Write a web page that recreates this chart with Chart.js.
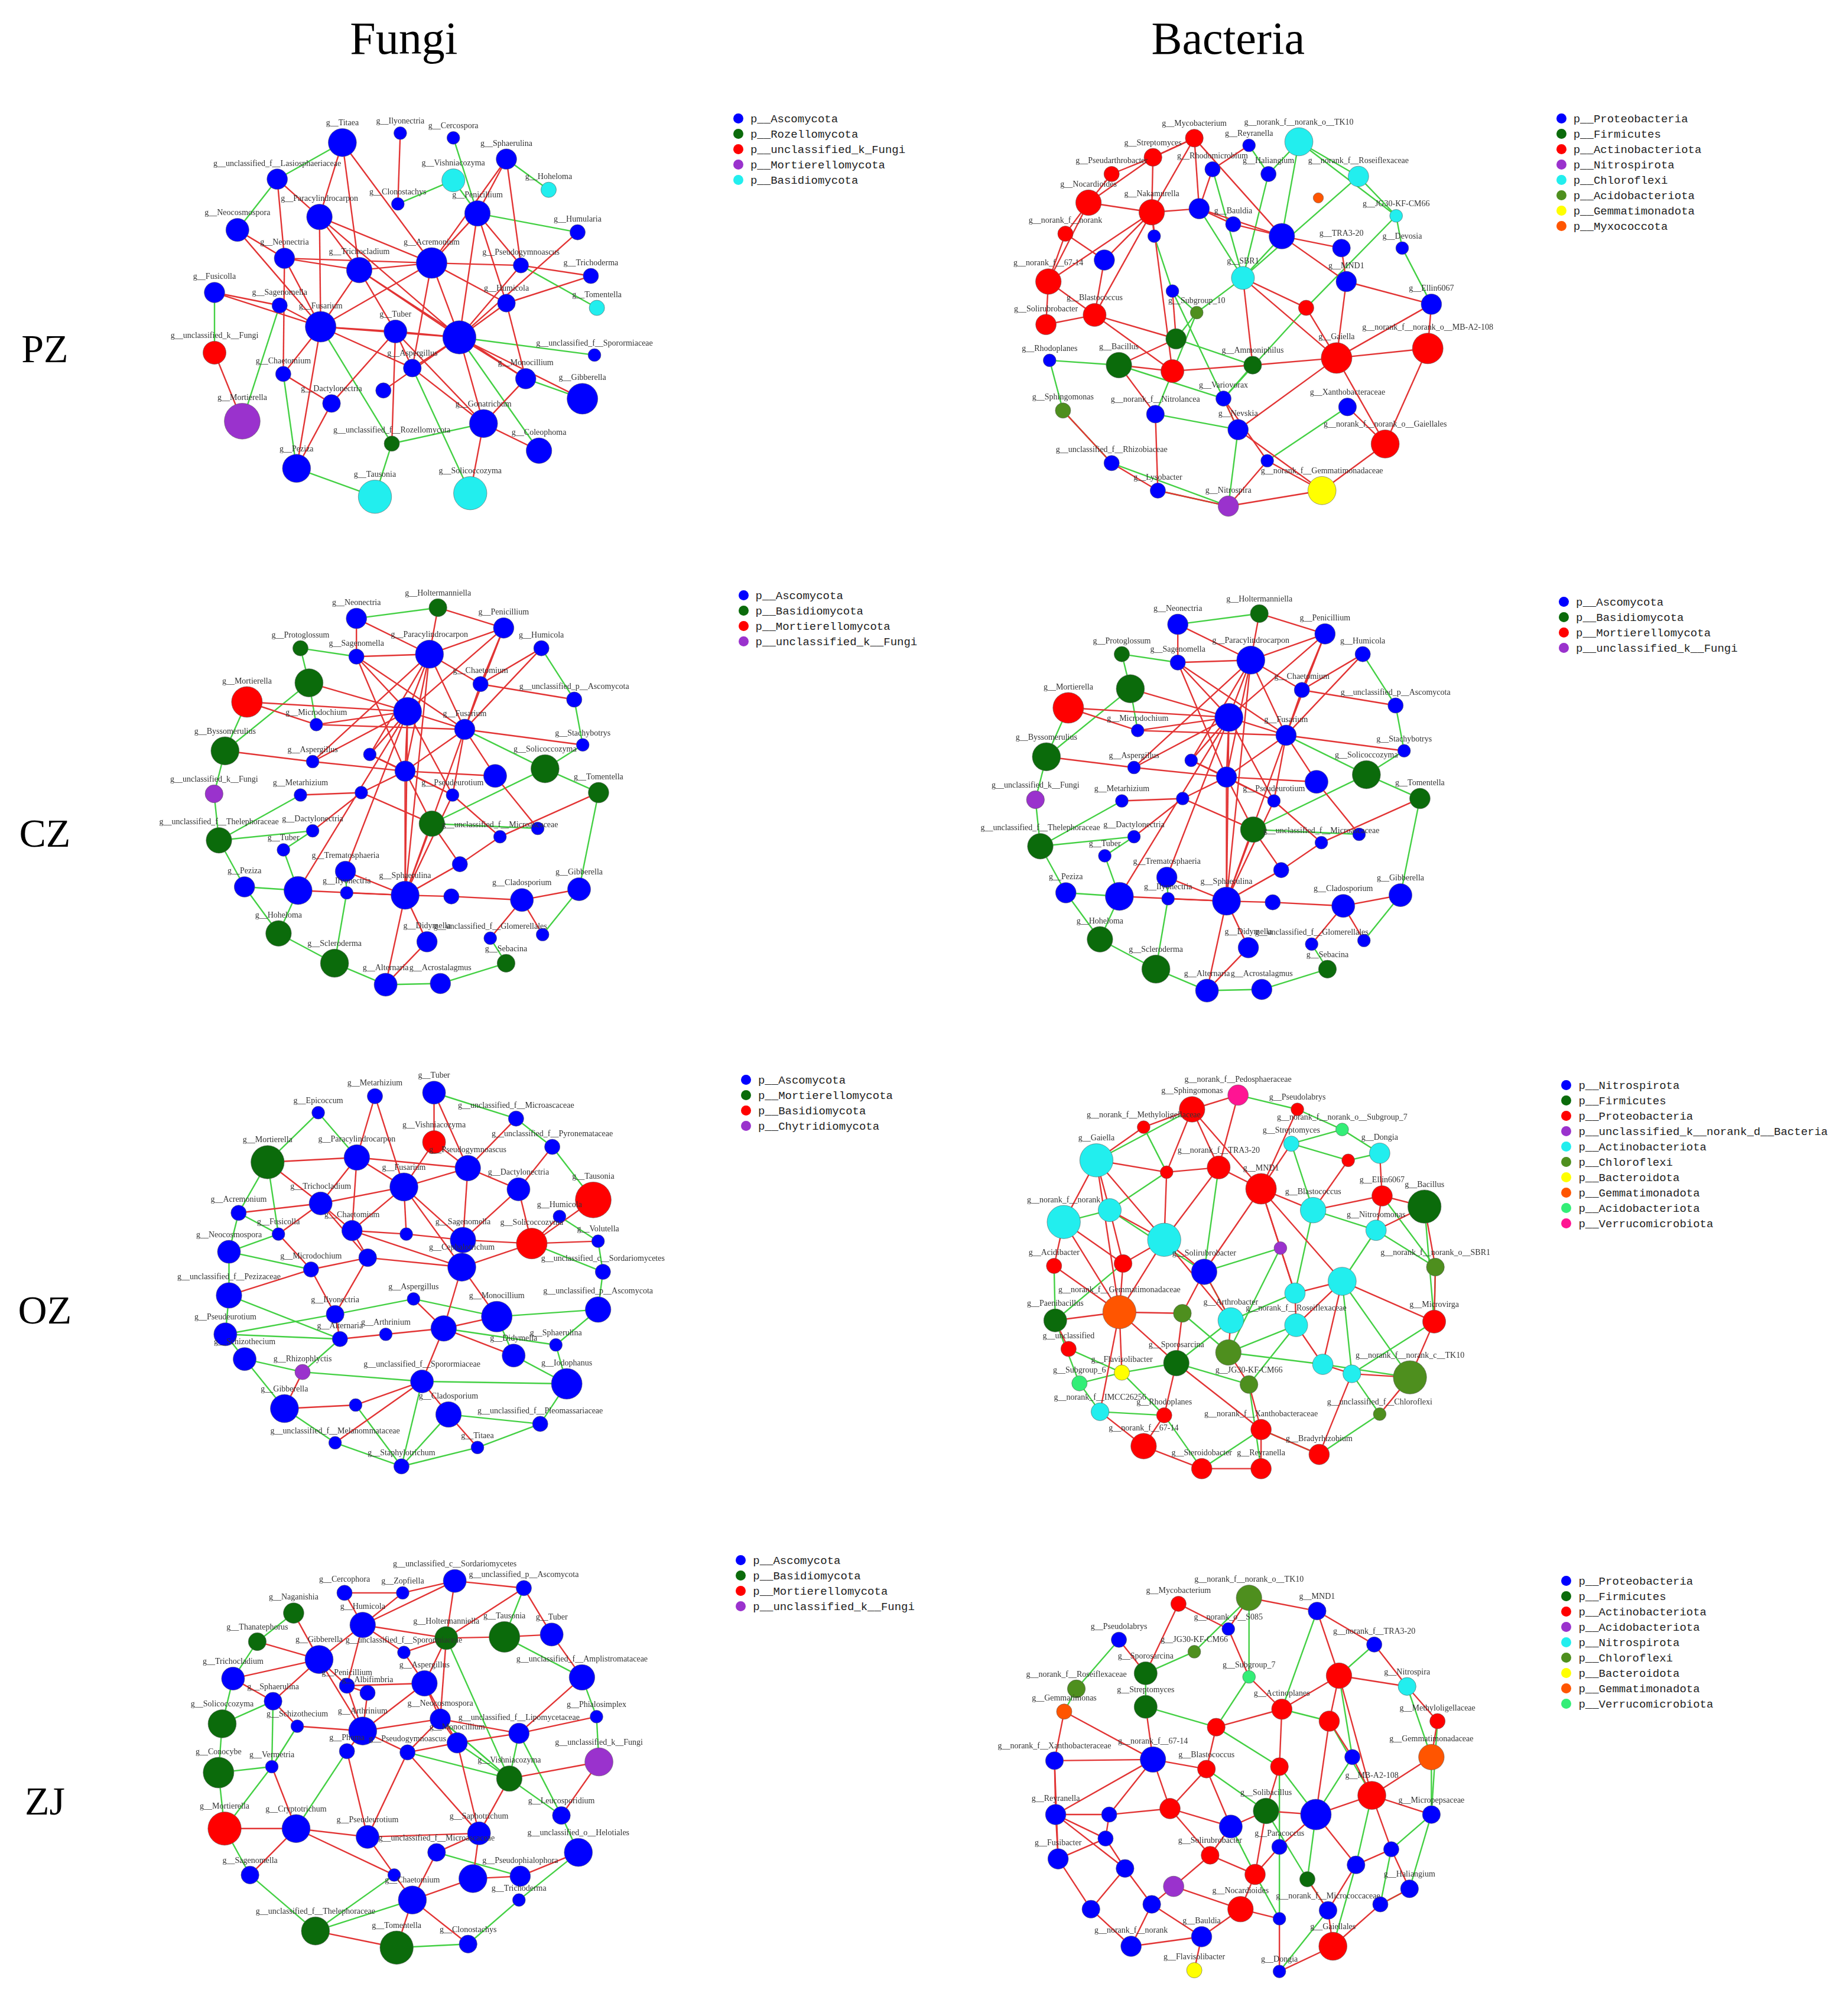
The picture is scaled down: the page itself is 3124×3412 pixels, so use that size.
<!DOCTYPE html>
<html lang="en">
<head>
<meta charset="utf-8" />
<title>Co-occurrence networks</title>
<script src="https://cdn.jsdelivr.net/npm/chart.js@4.4.0/dist/chart.umd.min.js"></script>
<style>
  body { margin: 0; background: #fff; width: 3124px; height: 3412px; position: relative; overflow: hidden; }
  .title { position: absolute; font-family: "Liberation Serif", serif; color: #000; transform: translate(-50%, -50%); white-space: nowrap; }
  .legend { position: absolute; font-family: "Liberation Mono", monospace; font-size: 19px; color: #222; line-height: 26px; }
  .legend span.dot { display: inline-block; width: 17px; height: 17px; border-radius: 50%; margin-right: 12px; vertical-align: -2px; }
  canvas { position: absolute; }
</style>
</head>
<body>
<script>
  const S = 3124 / 1440;

  const colTitles = [["Fungi", 315, 30], ["Bacteria", 958, 30]];
  const rowTitles = [["PZ", 35, 272], ["CZ", 35, 650], ["OZ", 35, 1022], ["ZJ", 35, 1405]];

  const COL = {
    blue: "#0000ff", dgreen: "#0b6b0b", red: "#ff0000", purple: "#9a32cd", cyan: "#22eeee",
    olive: "#4e8f1e", yellow: "#ffff00", orange: "#ff5500", spring: "#33ee77", pink: "#ff1493"
  };

  // ---------- PZ fungi ----------
  const pzFungiPhyla = [["p__Ascomycota", "blue"], ["p__Rozellomycota", "dgreen"], ["p__unclassified_k_Fungi", "red"], ["p__Mortierellomycota", "purple"], ["p__Basidiomycota", "cyan"]];
  const pzFungiNodes = [
    [264,100,11,0,"g__Titaea"],[312,92,5,0,"g__Ilyonectria"],[356,96,5,0,"g__Cercospora"],[400,114,8,0,"g__Sphaerulina"],
    [210,131,8,0,"g__unclassified_f__Lasiosphaeriaceae"],[310,152,5,0,"g__Clonostachys"],[356,132,9,4,"g__Vishniacozyma"],[435,140,6,4,"g__Hoheloma"],
    [245,163,10,0,"g__Paracylindrocarpon"],[376,160,10,0,"g__Penicillium"],[459,176,6,0,"g__Humularia"],[177,174,9,0,"g__Neocosmospora"],
    [216,198,8,0,"g__Neonectria"],[278,208,10,0,"g__Trichocladium"],[338,202,12,0,"g__Acremonium"],[412,204,6,0,"g__Pseudogymnoascus"],
    [470,213,6,0,"g__Trichoderma"],[158,227,8,0,"g__Fusicolla"],[212,238,6,0,"g__Sagenomella"],[475,240,6,4,"g__Tomentella"],
    [246,256,12,0,"g__Fusarium"],[308,260,9,0,"g__Tuber"],[361,265,13,0,""],[400,236,7,0,"g__Humicola"],
    [473,280,5,0,"g__unclassified_f__Sporormiaceae"],[158,278,9,2,"g__unclassified_k__Fungi"],[215,296,6,0,"g__Chaetomium"],[322,291,7,0,"g__Aspergillus"],
    [416,300,8,0,"g__Monocillium"],[463,317,12,0,"g__Gibberella"],[181,336,14,3,"g__Mortierella"],[255,321,7,0,"g__Dactylonectria"],
    [298,310,6,0,""],[381,338,11,0,"g__Gonatrichum"],[427,361,10,0,"g__Coleophoma"],[305,355,6,1,"g__unclassified_f__Rozellomycota"],
    [226,376,11,0,"g__Peziza"],[291,400,13,4,"g__Tausonia"],[370,397,13,4,"g__Solicoccozyma"]
  ];
  const pzFungiRed = [[0,8],[0,13],[0,14],[1,5],[3,9],[3,15],[4,12],[4,8],[8,13],[8,20],[8,14],[9,14],[9,22],[9,15],[11,12],[11,20],[12,13],[12,20],[12,14],[13,14],[13,21],[13,22],[14,22],[14,20],[14,15],[14,23],[15,16],[15,22],[17,18],[17,20],[18,20],[20,21],[20,22],[20,27],[20,26],[21,22],[21,27],[22,23],[22,28],[22,27],[22,33],[23,28],[26,31],[27,33],[28,33],[29,22],[31,21],[32,22],[33,34],[33,21],[36,31],[36,20],[38,33],[35,21],[13,28],[8,22],[3,14],[10,22],[16,23],[12,26],[30,25],[14,27],[13,20],[9,23]];
  const pzFungiGreen = [[0,4],[4,11],[6,9],[6,5],[7,3],[19,15],[25,17],[37,36],[37,35],[38,27],[24,22],[35,20],[30,18],[2,9],[10,9],[36,26],[34,22],[29,28],[35,33]];

  // ---------- PZ bacteria ----------
  const pzBactPhyla = [["p__Proteobacteria", "blue"], ["p__Firmicutes", "dgreen"], ["p__Actinobacteriota", "red"], ["p__Nitrospirota", "purple"], ["p__Chloroflexi", "cyan"], ["p__Acidobacteriota", "olive"], ["p__Gemmatimonadota", "yellow"], ["p__Myxococcota", "orange"]];
  const pzBactNodes = [
    [930,98,7,2,"g__Mycobacterium"],[975,104,5,0,"g__Reyranella"],[1016,101,11,4,"g__norank_f__norank_o__TK10"],[896,114,7,2,"g__Streptomyces"],
    [1065,130,8,4,"g__norank_f__Roseiflexaceae"],[862,128,6,2,"g__Pseudarthrobacter"],[945,124,6,0,"g__Rhodomicrobium"],[843,152,10,2,"g__Nocardioides"],
    [895,160,10,2,"g__Nakamurella"],[934,157,8,0,""],[991,128,6,0,"g__Haliangium"],[1032,148,4,7,""],
    [1096,163,5,4,"g__JG30-KF-CM66"],[824,178,6,2,"g__norank_f__norank"],[897,180,5,0,""],[962,170,6,0,"g__Bauldia"],
    [1002,180,10,0,""],[1051,190,7,0,"g__TRA3-20"],[1101,190,5,0,"g__Devosia"],[810,218,10,2,"g__norank_f__67-14"],
    [856,200,8,0,""],[912,226,5,0,""],[970,215,9,4,"g__SBR1"],[1055,218,8,0,"g__MND1"],
    [1125,237,8,0,"g__Ellin6067"],[808,254,8,2,"g__Solirubrobacter"],[848,246,9,2,"g__Blastococcus"],[932,244,5,5,"g__Subgroup_10"],
    [1022,240,6,2,""],[915,266,8,1,""],[1122,274,12,2,"g__norank_f__norank_o__MB-A2-108"],[1047,282,12,2,"g__Gaiella"],
    [811,284,5,0,"g__Rhodoplanes"],[868,288,10,1,"g__Bacillus"],[912,293,9,2,""],[978,288,7,1,"g__Ammoniphilus"],
    [954,316,6,0,"g__Variovorax"],[1056,323,7,0,"g__Xanthobacteraceae"],[822,326,6,5,"g__Sphingomonas"],[898,329,7,0,"g__norank_f__Nitrolancea"],
    [966,342,8,0,"g__Nevskia"],[1087,354,11,2,"g__norank_f__norank_o__Gaiellales"],[862,370,6,0,"g__unclassified_f__Rhizobiaceae"],[990,368,5,0,""],
    [900,393,6,0,"g__Lysobacter"],[958,406,8,3,"g__Nitrospira"],[1035,393,11,6,"g__norank_f__Gemmatimonadaceae"]
  ];
  const pzBactRed = [[0,3],[0,8],[0,16],[3,5],[3,7],[3,8],[5,7],[7,8],[7,13],[7,19],[8,9],[8,14],[8,20],[9,16],[13,19],[13,20],[19,25],[19,26],[20,26],[25,26],[26,29],[29,33],[33,34],[34,35],[31,30],[31,23],[31,24],[30,24],[30,41],[41,37],[41,46],[46,43],[46,40],[40,36],[31,22],[22,28],[16,17],[17,23],[23,24],[1,6],[6,9],[9,15],[15,16],[33,39],[39,44],[42,44],[42,38],[36,43],[28,31],[22,35],[34,8],[19,8],[35,31],[26,34],[29,21],[43,45],[40,31],[41,31],[16,23],[8,26],[0,9],[45,46],[44,45],[3,0]];
  const pzBactGreen = [[2,4],[2,12],[4,12],[10,22],[22,16],[22,27],[27,29],[29,35],[35,36],[36,40],[40,45],[44,45],[42,45],[32,33],[32,38],[38,42],[2,10],[12,18],[18,24],[22,9],[6,22],[14,21],[21,27],[33,36],[39,40],[43,37],[28,36],[1,10],[2,16],[4,22],[12,28],[21,36],[27,39]];

  // ---------- CZ (same network in both columns) ----------
  const czPhyla = [["p__Ascomycota", "blue"], ["p__Basidiomycota", "dgreen"], ["p__Mortierellomycota", "red"], ["p__unclassified_k__Fungi", "purple"]];
  const czNodes = [
    [343,463,7,1,"g__Holtermanniella"],[276,472,8,0,"g__Neonectria"],[397,480,8,0,"g__Penicillium"],[230,497,6,1,"g__Protoglossum"],
    [276,504,6,0,"g__Sagenomella"],[336,502,11,0,"g__Paracylindrocarpon"],[428,497,6,0,"g__Humicola"],[237,526,11,1,""],
    [378,527,6,0,"g__Chaetomium"],[186,542,12,2,"g__Mortierella"],[455,540,6,0,"g__unclassified_p__Ascomycota"],[243,561,5,0,"g__Microdochium"],
    [318,550,11,0,""],[365,565,8,0,"g__Fusarium"],[168,583,11,1,"g__Byssomerulius"],[462,578,5,0,"g__Stachybotrys"],
    [240,592,5,0,"g__Aspergillus"],[287,586,5,0,""],[390,604,9,0,""],[431,598,11,1,"g__Solicoccozyma"],
    [316,600,8,0,""],[159,619,7,3,"g__unclassified_k__Fungi"],[475,618,8,1,"g__Tomentella"],[230,620,5,0,"g__Metarhizium"],
    [280,618,5,0,""],[355,620,5,0,"g__Pseudeurotium"],[338,644,10,1,""],[394,655,5,0,"g__unclassified_f__Microascaceae"],
    [425,648,5,0,""],[163,658,10,1,"g__unclassified_f__Thelephoraceae"],[240,650,5,0,"g__Dactylonectria"],[216,666,5,0,"g__Tuber"],
    [267,684,8,0,"g__Trematosphaeria"],[361,678,6,0,""],[184,697,8,0,"g__Peziza"],[228,700,11,0,""],
    [268,702,5,0,"g__Ilyonectria"],[316,704,11,0,"g__Sphaerulina"],[354,705,6,0,""],[412,708,9,0,"g__Cladosporium"],
    [459,699,9,0,"g__Gibberella"],[212,736,10,1,"g__Hoheloma"],[334,743,8,0,"g__Didymella"],[386,740,5,0,"g__unclassified_f__Glomerellales"],
    [429,737,5,0,""],[258,761,11,1,"g__Scleroderma"],[300,779,9,0,"g__Alternaria"],[345,778,8,0,"g__Acrostalagmus"],
    [399,761,7,1,"g__Sebacina"]
  ];
  const czRed = [[0,5],[0,2],[1,5],[1,4],[2,5],[2,12],[2,8],[4,5],[4,12],[4,13],[5,12],[5,13],[5,8],[5,20],[5,17],[6,8],[6,13],[7,12],[8,13],[11,12],[11,13],[12,13],[12,20],[12,17],[12,25],[13,20],[13,25],[13,18],[16,12],[16,20],[17,20],[20,24],[20,25],[20,26],[23,24],[24,26],[25,27],[26,33],[26,37],[32,37],[33,37],[36,37],[37,38],[37,46],[38,39],[39,40],[42,37],[42,46],[43,39],[44,39],[10,8],[15,13],[22,27],[28,18],[9,11],[14,16],[30,24],[32,12],[35,37],[35,12],[27,33],[20,37],[25,37],[12,37],[13,37],[18,20],[17,25],[2,13],[5,16],[9,12],[5,37],[4,20]];
  const czGreen = [[3,7],[7,14],[14,21],[21,29],[29,34],[34,41],[41,45],[45,46],[46,47],[47,48],[48,43],[22,19],[19,15],[15,10],[10,6],[3,4],[7,11],[9,14],[29,30],[30,31],[31,35],[35,41],[32,36],[40,22],[28,26],[26,19],[19,13],[0,1],[36,45],[23,29],[40,44],[34,35]];

  // ---------- OZ fungi ----------
  const ozFungiPhyla = [["p__Ascomycota", "blue"], ["p__Mortierellomycota", "dgreen"], ["p__Basidiomycota", "red"], ["p__Chytridiomycota", "purple"]];
  const ozFungiNodes = [
    [291,843,6,0,"g__Metarhizium"],[340,840,9,0,"g__Tuber"],[244,857,5,0,"g__Epicoccum"],[408,862,6,0,"g__unclassified_f__Microascaceae"],
    [340,882,9,2,"g__Vishniacozyma"],[202,899,13,1,"g__Mortierella"],[276,895,10,0,"g__Paracylindrocarpon"],[368,904,10,0,"g__Pseudogymnoascus"],
    [438,886,6,0,"g__unclassified_f__Pyronemataceae"],[178,942,6,0,"g__Acremonium"],[246,934,9,0,"g__Trichocladium"],[315,920,11,0,"g__Fusarium"],
    [410,922,9,0,"g__Dactylonectria"],[472,931,14,2,"g__Tausonia"],[444,945,5,0,"g__Humicola"],[170,975,9,0,"g__Neocosmospora"],
    [211,960,5,0,"g__Fusicolla"],[272,957,8,0,"g__Chaetomium"],[317,960,5,0,""],[364,965,10,0,"g__Sagenomella"],
    [421,968,12,2,"g__Solicoccozyma"],[476,966,5,0,"g__Volutella"],[480,992,6,0,"g__unclassified_c__Sordariomycetes"],[170,1012,10,0,"g__unclassified_f__Pezizaceae"],
    [238,990,6,0,"g__Microdochium"],[285,980,7,0,""],[363,988,11,0,"g__Cephalotrichum"],[167,1045,9,0,"g__Pseudeurotium"],
    [258,1028,7,0,"g__Ilyonectria"],[323,1015,5,0,"g__Aspergillus"],[392,1030,12,0,"g__Monocillium"],[476,1024,10,0,"g__unclassified_p__Ascomycota"],
    [183,1066,9,0,"g__Schizothecium"],[262,1049,6,0,"g__Alternaria"],[300,1045,5,0,"g__Arthrinium"],[348,1040,10,0,""],
    [441,1054,5,0,"g__Sphaerulina"],[231,1077,6,3,"g__Rhizophlyctis"],[406,1063,9,0,"g__Didymella"],[330,1085,9,0,"g__unclassified_f__Sporormiaceae"],
    [216,1108,11,0,"g__Gibberella"],[450,1087,12,0,"g__Iodophanus"],[352,1113,10,0,"g__Cladosporium"],[428,1121,6,0,"g__unclassified_f__Pleomassariaceae"],
    [258,1137,5,0,"g__unclassified_f__Melanommataceae"],[313,1157,6,0,"g__Staphylotrichum"],[376,1141,5,0,"g__Titaea"],[275,1105,5,0,""]
  ];
  const ozFungiRed = [[0,6],[0,11],[1,4],[1,7],[4,7],[4,11],[6,10],[6,11],[6,17],[7,11],[7,12],[7,19],[10,11],[10,16],[10,17],[11,17],[11,18],[11,19],[12,19],[12,20],[13,20],[17,18],[17,25],[18,19],[19,26],[19,20],[25,26],[26,30],[26,35],[25,28],[28,33],[29,35],[30,35],[35,39],[33,34],[34,35],[39,42],[24,25],[16,24],[9,10],[5,10],[5,6],[3,7],[8,12],[14,20],[21,20],[26,20],[11,26],[17,26],[24,28],[39,47],[40,47],[42,46],[44,39],[23,24],[40,37],[35,38],[6,7],[10,25]];
  const ozFungiGreen = [[2,5],[5,9],[9,15],[15,23],[23,27],[27,32],[32,40],[40,44],[44,45],[45,46],[46,43],[43,41],[41,36],[36,31],[31,22],[22,21],[21,14],[13,8],[8,3],[3,1],[15,24],[23,33],[27,33],[32,37],[33,37],[37,39],[39,45],[42,43],[30,38],[38,41],[35,36],[28,29],[16,9],[5,16],[2,6],[22,20],[31,30],[42,45],[29,30],[47,45],[15,16],[27,28],[39,41]];

  // ---------- OZ bacteria ----------
  const ozBactPhyla = [["p__Nitrospirota", "blue"], ["p__Firmicutes", "dgreen"], ["p__Proteobacteria", "red"], ["p__unclassified_k__norank_d__Bacteria", "purple"], ["p__Actinobacteriota", "cyan"], ["p__Chloroflexi", "olive"], ["p__Bacteroidota", "yellow"], ["p__Gemmatimonadota", "orange"], ["p__Acidobacteriota", "spring"], ["p__Verrucomicrobiota", "pink"]];
  const ozBactNodes = [
    [966,843,8,9,"g__norank_f__Pedosphaeraceae"],[928,855,10,2,"g__Sphingomonas"],[1015,855,5,2,"g__Pseudolabrys"],[888,870,5,2,"g__norank_f__Methyloligellaceae"],
    [849,898,13,4,"g__Gaiella"],[1052,872,5,8,"g__norank_f__norank_o__Subgroup_7"],[1010,884,6,4,"g__Streptomyces"],[950,904,9,2,"g__norank_f__TRA3-20"],
    [1083,892,8,4,"g__Dongia"],[907,908,5,2,""],[1057,898,5,2,""],[985,922,12,2,"g__MND1"],
    [1085,928,8,2,"g__Ellin6067"],[1120,937,13,1,"g__Bacillus"],[822,950,13,4,"g__norank_f__norank"],[860,940,9,4,""],
    [1028,940,10,4,"g__Blastococcus"],[1080,957,8,4,"g__Nitrosomonas"],[905,965,13,4,""],[814,987,6,2,"g__Acidibacter"],
    [871,985,7,2,""],[938,992,10,0,"g__Solirubrobacter"],[1001,972,5,3,""],[1129,988,7,5,"g__norank_f__norank_o__SBR1"],
    [1052,1000,11,4,""],[815,1033,9,1,"g__Paenibacillus"],[868,1026,13,7,"g__norank_f__Gemmatimonadaceae"],[920,1027,7,5,""],
    [960,1033,10,4,"g__Arthrobacter"],[1013,1010,8,4,""],[1014,1037,9,4,"g__norank_f__Roseiflexaceae"],[1128,1034,9,2,"g__Microvirga"],
    [826,1057,6,2,"g__unclassified"],[915,1069,10,1,"g__Sporosarcina"],[958,1060,10,5,""],[1036,1070,8,4,""],
    [835,1086,6,8,"g__Subgroup_6"],[870,1077,6,6,"g__Flavisolibacter"],[975,1087,7,5,"g__JG30-KF-CM66"],[1060,1078,7,4,""],
    [1108,1081,13,5,"g__norank_f__norank_c__TK10"],[852,1110,7,4,"g__norank_f__IMCC26256"],[905,1113,6,2,"g__Rhodoplanes"],[1083,1112,5,5,"g__unclassified_f__Chloroflexi"],
    [1033,1146,8,2,"g__Bradyrhizobium"],[888,1139,10,2,"g__norank_f__67-14"],[936,1158,8,2,"g__Steroidobacter"],[985,1158,8,2,"g__Reyranella"],
    [985,1125,8,2,"g__norank_f__Xanthobacteraceae"]
  ];
  const ozBactRed = [[1,3],[1,7],[1,9],[1,11],[3,4],[4,9],[4,14],[4,15],[4,18],[7,11],[7,9],[7,18],[9,18],[11,16],[11,22],[11,24],[11,29],[12,16],[12,17],[12,13],[13,23],[13,17],[14,19],[14,20],[14,26],[15,18],[15,20],[18,20],[18,21],[18,26],[19,26],[20,26],[21,27],[21,28],[22,29],[24,29],[24,30],[24,31],[24,35],[25,26],[25,32],[26,27],[26,33],[26,37],[27,33],[28,34],[29,30],[30,35],[31,40],[33,42],[34,38],[35,39],[39,40],[40,43],[41,45],[42,45],[44,48],[45,46],[46,47],[47,48],[48,38],[44,39],[0,1],[0,7],[2,11],[6,11],[8,12],[10,16],[23,31],[26,41],[33,48],[21,11],[18,28],[4,26]];
  const ozBactGreen = [[0,2],[2,5],[5,8],[8,10],[6,10],[6,16],[3,9],[9,15],[14,15],[19,25],[25,36],[36,41],[32,37],[37,42],[41,42],[42,46],[46,48],[48,44],[44,43],[43,39],[39,31],[31,23],[23,17],[17,16],[16,29],[29,28],[28,21],[21,22],[22,34],[34,30],[30,38],[38,33],[33,37],[27,34],[24,39],[35,40],[12,23],[13,31],[7,21],[1,4],[5,6],[17,24],[28,33],[20,25],[15,21],[34,35],[38,47],[40,24],[36,37]];

  // ---------- ZJ fungi ----------
  const zjFungiPhyla = [["p__Ascomycota", "blue"], ["p__Basidiomycota", "dgreen"], ["p__Mortierellomycota", "red"], ["p__unclassified_k__Fungi", "purple"]];
  const zjFungiNodes = [
    [357,1222,9,0,"g__unclassified_c__Sordariomycetes"],[266,1232,6,0,"g__Cercophora"],[314,1232,5,0,"g__Zopfiella"],[414,1228,6,0,"g__unclassified_p__Ascomycota"],
    [224,1249,8,1,"g__Naganishia"],[281,1259,10,0,"g__Humicola"],[350,1270,9,1,"g__Holtermanniella"],[398,1269,12,1,"g__Tausonia"],
    [437,1267,9,0,"g__Tuber"],[194,1273,7,1,"g__Thanatephorus"],[245,1288,11,0,"g__Gibberella"],[315,1282,5,0,"g__unclassified_f__Sporormiaceae"],
    [462,1303,10,0,"g__unclassified_f__Amplistromataceae"],[174,1304,9,0,"g__Trichocladium"],[268,1310,6,0,"g__Penicillium"],[332,1308,10,0,"g__Aspergillus"],
    [207,1323,7,0,"g__Sphaerulina"],[285,1316,6,0,"g__Albifimbria"],[165,1342,11,1,"g__Solicoccozyma"],[227,1344,5,0,"g__Schizothecium"],
    [281,1348,11,0,"g__Arthrinium"],[410,1350,8,0,"g__unclassified_f__Lipomycetaceae"],[474,1336,5,0,"g__Phialosimplex"],[476,1374,11,3,"g__unclassified_k__Fungi"],
    [345,1338,8,0,"g__Neocosmospora"],[162,1383,12,1,"g__Conocybe"],[206,1378,5,0,"g__Vermetria"],[268,1365,6,0,"g__Phoma"],
    [318,1366,6,0,"g__Pseudogymnoascus"],[402,1388,10,1,"g__Vishniacozyma"],[359,1358,8,0,"g__Monocillium"],[167,1430,13,2,"g__Mortierella"],
    [226,1430,11,0,"g__Cryptotrichum"],[285,1437,9,0,"g__Pseudeurotium"],[445,1419,7,0,"g__Leucosporidium"],[377,1434,9,0,"g__Saphotrichum"],
    [459,1450,11,0,"g__unclassified_o__Helotiales"],[188,1469,7,0,"g__Sagenomella"],[342,1450,7,0,"g__unclassified_f__Microascaceae"],[307,1469,5,0,""],
    [411,1470,8,0,"g__Pseudophialophora"],[322,1490,11,0,"g__Chaetomium"],[410,1490,5,0,"g__Trichoderma"],[242,1516,11,1,"g__unclassified_f__Thelephoraceae"],
    [309,1530,13,1,"g__Tomentella"],[368,1527,7,0,"g__Clonostachys"],[372,1472,11,0,""]
  ];
  const zjFungiRed = [[0,2],[0,3],[0,6],[0,5],[1,5],[1,2],[2,5],[3,6],[3,8],[5,6],[5,10],[5,11],[5,14],[6,7],[6,11],[6,15],[7,8],[8,12],[10,14],[10,13],[10,16],[11,15],[14,15],[14,17],[14,20],[15,24],[15,20],[16,19],[17,20],[19,20],[20,24],[20,27],[20,28],[24,28],[24,30],[28,30],[28,35],[30,35],[21,30],[21,24],[12,21],[22,21],[23,34],[23,29],[29,35],[33,35],[32,33],[35,46],[35,38],[38,41],[46,40],[40,36],[41,45],[41,44],[43,44],[37,32],[31,32],[32,39],[26,32],[13,16],[4,10],[9,10],[33,41],[27,33],[28,33],[46,41],[10,20],[15,30],[6,24]];
  const zjFungiGreen = [[4,9],[9,13],[13,18],[18,25],[25,31],[31,37],[37,43],[43,41],[44,45],[45,42],[42,36],[36,34],[34,29],[29,21],[12,22],[22,23],[3,7],[7,12],[18,16],[25,26],[26,31],[19,26],[27,32],[29,30],[29,24],[38,40],[39,43],[6,29],[21,34],[28,29],[24,29],[16,26]];

  // ---------- ZJ bacteria ----------
  const zjBactPhyla = [["p__Proteobacteria", "blue"], ["p__Firmicutes", "dgreen"], ["p__Actinobacteriota", "red"], ["p__Acidobacteriota", "purple"], ["p__Nitrospirota", "cyan"], ["p__Chloroflexi", "olive"], ["p__Bacteroidota", "yellow"], ["p__Gemmatimonadota", "orange"], ["p__Verrucomicrobiota", "spring"]];
  const zjBactNodes = [
    [975,1237,10,5,"g__norank_f__norank_o__TK10"],[917,1242,6,2,"g__Mycobacterium"],[1031,1248,7,0,"g__MND1"],[868,1272,6,0,"g__Pseudolabrys"],
    [958,1263,5,0,"g__norank_o__S085"],[1078,1276,6,0,"g__norank_f__TRA3-20"],[930,1282,5,5,"g__JG30-KF-CM66"],[833,1313,7,5,"g__norank_f__Roseiflexaceae"],
    [890,1300,9,1,"g__Sporosarcina"],[975,1303,5,8,"g__Subgroup_7"],[1049,1302,10,2,""],[1105,1311,7,4,"g__Nitrospira"],
    [823,1332,6,7,"g__Gemmatimonas"],[890,1328,9,1,"g__Streptomyces"],[1002,1330,8,2,"g__Actinoplanes"],[1130,1340,6,2,"g__Methyloligellaceae"],
    [948,1345,7,2,""],[1041,1340,8,2,""],[1125,1370,10,7,"g__Gemmatimonadaceae"],[896,1372,10,0,"g__norank_f__67-14"],
    [940,1380,7,2,"g__Blastococcus"],[1000,1378,7,2,""],[815,1373,7,0,"g__norank_f__Xanthobacteraceae"],[1060,1370,6,0,""],
    [1076,1402,11,2,"g__MB-A2-108"],[1125,1418,7,0,"g__Micropepsaceae"],[816,1418,8,0,"g__Reyranella"],[860,1418,6,0,""],
    [910,1413,8,2,""],[989,1415,10,1,"g__Solibacillus"],[1030,1418,12,0,""],[960,1428,9,0,""],
    [857,1438,6,0,""],[943,1452,7,2,"g__Solirubrobacter"],[818,1455,8,0,"g__Fusibacter"],[873,1463,7,0,""],
    [1000,1445,6,0,"g__Paracoccus"],[1092,1447,6,0,""],[980,1468,8,2,""],[1023,1472,6,1,""],
    [1063,1460,7,0,""],[1107,1480,7,0,"g__Haliangium"],[913,1478,8,3,""],[845,1497,7,0,""],
    [895,1493,7,0,""],[968,1497,10,2,"g__Nocardioides"],[1040,1498,7,0,"g__norank_f__Micrococcaceae"],[1083,1493,6,0,""],
    [878,1528,8,0,"g__norank_f__norank"],[936,1520,8,0,"g__Bauldia"],[1044,1528,11,2,"g__Gaiellales"],[930,1548,6,6,"g__Flavisolibacter"],
    [1000,1549,5,0,"g__Dongia"],[1000,1505,5,0,""]
  ];
  const zjBactRed = [[0,2],[0,4],[1,4],[2,5],[2,10],[4,9],[5,11],[10,11],[10,14],[10,17],[10,24],[11,15],[13,19],[12,19],[12,22],[19,20],[19,22],[19,26],[19,27],[19,28],[20,28],[20,31],[21,29],[14,21],[17,23],[23,24],[24,25],[24,30],[24,37],[22,26],[26,27],[26,32],[26,34],[27,28],[27,32],[28,33],[28,31],[29,30],[29,31],[30,36],[30,40],[31,33],[32,34],[32,35],[33,38],[33,42],[34,43],[35,43],[35,44],[36,38],[37,40],[37,41],[38,45],[39,46],[40,46],[41,47],[42,44],[42,45],[43,48],[44,48],[44,49],[45,49],[45,53],[46,50],[47,50],[48,49],[49,51],[50,52],[53,52],[18,24],[15,18],[3,8],[1,8],[16,20],[16,14],[9,14],[22,34],[26,35],[29,38],[17,30]];
  const zjBactGreen = [[0,6],[0,9],[3,7],[7,12],[6,8],[8,13],[9,16],[2,14],[5,10],[11,18],[15,25],[18,25],[25,41],[41,47],[37,47],[23,30],[21,36],[16,21],[14,17],[29,39],[39,46],[36,53],[38,53],[31,38],[30,39],[24,40],[46,52],[17,24],[10,23],[13,16],[20,29],[21,30],[40,50],[37,25]];

  // panels: [nodes, red, green, phyla, x0, y0, x1, y1, dx, dy, legendX, legendY]
  const panels = [
    [pzFungiNodes, pzFungiRed, pzFungiGreen, pzFungiPhyla, 70, 60, 560, 425, 0, 0, 572, 93],
    [pzBactNodes, pzBactRed, pzBactGreen, pzBactPhyla, 720, 60, 1205, 425, 0, 0, 1214, 93],
    [czNodes, czRed, czGreen, czPhyla, 70, 440, 560, 800, 0, 0, 576, 465],
    [czNodes, czRed, czGreen, czPhyla, 70, 440, 560, 800, 641, 5, 1216, 470],
    [ozFungiNodes, ozFungiRed, ozFungiGreen, ozFungiPhyla, 70, 815, 560, 1175, 0, 0, 578, 843],
    [ozBactNodes, ozBactRed, ozBactGreen, ozBactPhyla, 720, 815, 1205, 1175, 0, 0, 1218, 847],
    [zjFungiNodes, zjFungiRed, zjFungiGreen, zjFungiPhyla, 70, 1190, 560, 1565, 0, 0, 574, 1218],
    [zjBactNodes, zjBactRed, zjBactGreen, zjBactPhyla, 720, 1190, 1205, 1565, 0, 0, 1218, 1234]
  ];

  colTitles.forEach(([t, x, y]) => addTitle(t, x, y, 78));
  rowTitles.forEach(([t, x, y]) => addTitle(t, x, y, 68));

  function addTitle(t, x, y, size) {
    const d = document.createElement("div");
    d.className = "title";
    d.style.left = (x * S) + "px";
    d.style.top = (y * S) + "px";
    d.style.fontSize = size + "px";
    d.textContent = t;
    document.body.appendChild(d);
  }

  const nodeLabels = {
    id: "nodeLabels",
    afterDatasetsDraw(chart) {
      const ctx = chart.ctx;
      const nodes = chart.options.plugins.nodeLabels.nodes;
      const xs = chart.scales.x, ys = chart.scales.y;
      ctx.save();
      ctx.font = "14px 'Liberation Serif', serif";
      ctx.fillStyle = "#333";
      ctx.textAlign = "center";
      ctx.textBaseline = "bottom";
      nodes.forEach(n => {
        if (!n[4]) return;
        ctx.fillText(n[4], xs.getPixelForValue(n[0]), ys.getPixelForValue(n[1]) - n[2] * S - 2);
      });
      ctx.restore();
    }
  };

  panels.forEach(p => {
    const [nodes, red, green, phyla, x0, y0, x1, y1, dx, dy, lx, ly] = p;
    const canvas = document.createElement("canvas");
    const w = Math.round((x1 - x0) * S), h = Math.round((y1 - y0) * S);
    canvas.width = w; canvas.height = h;
    canvas.style.left = Math.round((x0 + dx) * S) + "px";
    canvas.style.top = Math.round((y0 + dy) * S) + "px";
    canvas.style.width = w + "px"; canvas.style.height = h + "px";
    document.body.appendChild(canvas);

    const datasets = [];
    // higher order is drawn first, so nodes (order 0) sit on top of the edges
    const addEdges = (list, color, order) => list.forEach(([a, b]) => {
      if (!nodes[a] || !nodes[b]) return;
      datasets.push({
        type: "scatter", showLine: true, pointRadius: 0, borderColor: color, borderWidth: 2.4, order,
        data: [{ x: nodes[a][0], y: nodes[a][1] }, { x: nodes[b][0], y: nodes[b][1] }]
      });
    });
    addEdges(green, "#44d044", 2);
    addEdges(red, "#e23434", 1);
    phyla.forEach((ph, i) => {
      datasets.push({
        type: "bubble", order: 0,
        backgroundColor: COL[ph[1]], borderColor: "rgba(90,90,90,0.6)", borderWidth: 1,
        data: nodes.filter(n => n[3] === i).map(n => ({ x: n[0], y: n[1], r: n[2] * S }))
      });
    });

    new Chart(canvas, {
      type: "bubble",
      data: { datasets },
      options: {
        responsive: false, animation: false, devicePixelRatio: 1,
        layout: { padding: 0 },
        scales: {
          x: { type: "linear", min: x0, max: x1, display: false },
          y: { type: "linear", min: y0, max: y1, reverse: true, display: false }
        },
        plugins: { legend: { display: false }, tooltip: { enabled: false }, nodeLabels: { nodes } }
      },
      plugins: [nodeLabels]
    });

    const lg = document.createElement("div");
    lg.className = "legend";
    lg.style.left = (lx * S) + "px";
    lg.style.top = (ly * S - 13) + "px";
    phyla.forEach(ph => {
      const row = document.createElement("div");
      row.innerHTML = '<span class="dot" style="background:' + COL[ph[1]] + '"></span>' + ph[0];
      lg.appendChild(row);
    });
    document.body.appendChild(lg);
  });
</script>
</body>
</html>
